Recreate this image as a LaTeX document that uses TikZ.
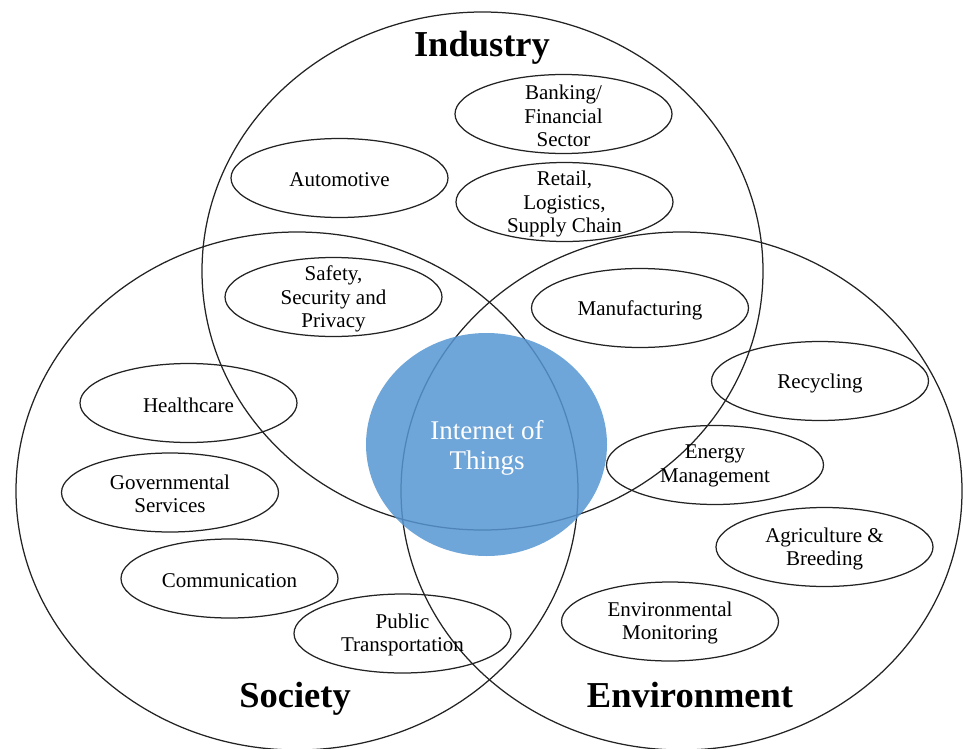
\documentclass[tikz,border=0pt]{standalone}
\usepackage{fontspec}
\setmainfont{Liberation Serif}
\definecolor{iotblue}{RGB}{86,150,210}
\definecolor{linegray}{RGB}{35,35,35}
\begin{document}
\begin{tikzpicture}[x=1pt,y=-1pt,
  ring/.style={draw=linegray, line width=1.25pt},
  oval/.style={draw=linegray, line width=1.25pt},
  lbl/.style={font=\fontsize{21}{23.5}\selectfont, align=center, inner sep=0pt, text=black},
  ttl/.style={font=\fontsize{36.5}{40}\selectfont\bfseries, inner sep=0pt, anchor=base},
]
\useasboundingbox (0,0) rectangle (963,749);
% big sets
\coordinate (ind) at (482.5,271);
\coordinate (soc) at (297,491);
\coordinate (env) at (681.5,491);
\draw[ring] (ind) ellipse [x radius=280.5, y radius=259];
\draw[ring] (soc) ellipse [x radius=281, y radius=259];
\draw[ring] (env) ellipse [x radius=280.5, y radius=259];

% titles
\node[ttl] (tind) at (482,57) {Industry};
\node[ttl] (tsoc) at (295,707) {Society};
\node[ttl] (tenv) at (690,707) {Environment};

% application areas
\node[lbl] (bank) at (563.5,116) {Banking/\\Financial\\Sector};
\node[lbl] (auto) at (339.5,180) {Automotive};
\node[lbl] (retail) at (564.5,204) {Retail,\\Logistics,\\Supply Chain};
\node[lbl] (safe) at (333.5,299) {Safety,\\Security and\\Privacy};
\node[lbl] (manu) at (640,310) {Manufacturing};
\node[lbl] (recy) at (820,383) {Recycling};
\node[lbl] (health) at (188.5,405) {Healthcare};
\node[lbl] (energy) at (715,466) {Energy\\Management};
\node[lbl] (gov) at (170,494) {Governmental\\Services};
\node[lbl] (agri) at (824.5,549) {Agriculture \&\\Breeding};
\node[lbl] (comm) at (229.5,581) {Communication};
\node[lbl] (envmon) at (670,623) {Environmental\\Monitoring};
\node[lbl] (pub) at (402.5,635) {Public\\Transportation};

\foreach \n/\cx/\cy in {bank/563.5/114, auto/339.5/178, retail/564.5/202, safe/333.5/297,
  manu/640/308, recy/820/381, health/188.5/403, energy/715/465, gov/170/492.5,
  agri/824.5/547, comm/229.5/578.5, envmon/670/621.5, pub/402.5/633.5}
  \draw[oval] (\cx,\cy) ellipse [x radius=108.5, y radius=39.5];

% core
\fill[iotblue, fill opacity=0.85] (486.5,444.5) ellipse [x radius=120.5, y radius=111.5];
\node[font=\fontsize{27}{30}\selectfont, align=center, inner sep=0pt, text=white] (iot) at (487,447.5) {Internet of\\Things};
\end{tikzpicture}
\end{document}
